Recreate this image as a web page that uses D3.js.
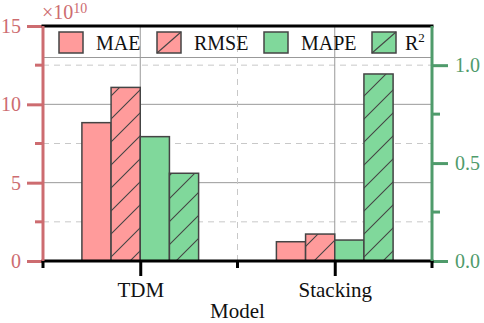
<!DOCTYPE html>
<html>
<head>
<meta charset="utf-8">
<script src="https://cdn.jsdelivr.net/npm/d3@7"></script>
<style>
  body { margin: 0; background: #fff; }
  svg { display: block; }
  svg text { font-family: "Liberation Serif", "Times New Roman", serif; }
</style>
</head>
<body>
<svg id="chart" width="484" height="323"></svg>
<script>
// data
const categories = ["TDM", "Stacking"];
const mae = [8.83, 1.23];       // x1e10, left axis
const rmse = [11.08, 1.72];     // x1e10, left axis
const mape = [0.635, 0.107];    // right axis
const r2 = [0.448, 0.955];      // right axis
const leftTicks = [0, 5, 10, 15];
const rightTicks = [0.0, 0.5, 1.0];

const PINK = "#ff9b9b", GREEN = "#80d89b";
const PINK_AXIS = "#cd6c70", GREEN_AXIS = "#4f9b6b";
const SERIF = "'Liberation Serif', 'Times New Roman', serif";

const svg = d3.select("#chart");
const m = { left: 43, right: 52, top: 26, bottom: 62 };
const W = 484, H = 323;

const x = d3.scaleLinear().domain([-0.5, 1.5]).range([m.left, W - m.right]);
const yL = d3.scaleLinear().domain([0, 15]).range([H - m.bottom, m.top]);
const yR = d3.scaleLinear().domain([0, 1.2]).range([H - m.bottom, m.top]);

const series = [
  { name: "MAE", vals: mae, y: yL, fill: PINK, hatch: false, lx: 59 },
  { name: "RMSE", vals: rmse, y: yL, fill: PINK, hatch: true, lx: 157 },
  { name: "MAPE", vals: mape, y: yR, fill: GREEN, hatch: false, lx: 264 },
  { name: "R2", vals: r2, y: yR, fill: GREEN, hatch: true, lx: 372 }
];

// hatch pattern
const defs = svg.append("defs");
const pat = defs.append("pattern")
  .attr("id", "hatch")
  .attr("patternUnits", "userSpaceOnUse")
  .attr("width", 23).attr("height", 23);
pat.append("path")
  .attr("d", "M0,23 L23,0 M-5,5 L5,-5 M18,28 L28,18")
  .attr("stroke", "#444").attr("stroke-width", 1.1);

// grid
const grid = svg.append("g");
[2.5, 7.5, 12.5].forEach(v => {
  grid.append("line")
    .attr("x1", x(-0.5)).attr("x2", x(1.5))
    .attr("y1", yL(v)).attr("y2", yL(v))
    .attr("stroke", "#c8c8c8").attr("stroke-dasharray", "6,5");
});
[5, 10].forEach(v => {
  grid.append("line")
    .attr("x1", x(-0.5)).attr("x2", x(1.5))
    .attr("y1", yL(v)).attr("y2", yL(v))
    .attr("stroke", "#999");
});
grid.append("line")
  .attr("x1", x(0.5)).attr("x2", x(0.5))
  .attr("y1", yL(0)).attr("y2", yL(15))
  .attr("stroke", "#c8c8c8").attr("stroke-dasharray", "6,5");
categories.forEach((c, i) => {
  grid.append("line")
    .attr("x1", x(i)).attr("x2", x(i))
    .attr("y1", yL(0)).attr("y2", yL(15))
    .attr("stroke", "#999");
});

// bars
const bw = 0.15;
series.forEach((s, si) => {
  const g = svg.append("g");
  const bar = sel => sel
    .attr("x", (d, i) => x(i + (si - 2) * bw))
    .attr("width", x(bw) - x(0))
    .attr("y", d => s.y(d))
    .attr("height", d => s.y(0) - s.y(d));
  g.selectAll("rect.fill").data(s.vals).join("rect").call(bar).attr("fill", s.fill);
  if (s.hatch) {
    g.selectAll("rect.hatch").data(s.vals).join("rect").call(bar).attr("fill", "url(#hatch)");
  }
  g.selectAll("rect.edge").data(s.vals).join("rect").call(bar)
    .attr("fill", "none").attr("stroke", "#444").attr("stroke-width", 1.5);
});

// legend
const lg = svg.append("g");
lg.append("line")
  .attr("x1", x(-0.5)).attr("x2", x(1.5))
  .attr("y1", 57.5).attr("y2", 57.5)
  .attr("stroke", "#999");
series.forEach(s => {
  const lx = s.lx;
  lg.append("rect")
    .attr("x", lx).attr("y", 32).attr("width", 24).attr("height", 21)
    .attr("fill", s.fill);
  if (s.hatch) {
    lg.append("line")
      .attr("x1", lx).attr("y1", 53).attr("x2", lx + 24).attr("y2", 32)
      .attr("stroke", "#444").attr("stroke-width", 1.1);
  }
  lg.append("rect")
    .attr("x", lx).attr("y", 32).attr("width", 24).attr("height", 21)
    .attr("fill", "none").attr("stroke", "#444").attr("stroke-width", 1.5);
  const t = lg.append("text")
    .attr("x", s.name === "R2" ? lx + 33 : lx + 37).attr("y", 50)
    .style("font-size", "20px").attr("fill", "#111");
  if (s.name === "R2") {
    t.append("tspan").text("R");
    t.append("tspan").style("font-size", "13px").attr("dy", -8).text("2");
  } else {
    t.text(s.name);
  }
});

// left axis
const axL = svg.append("g").attr("transform", `translate(${m.left},0)`)
  .call(d3.axisLeft(yL).tickValues(leftTicks).tickSize(16).tickPadding(6).tickFormat(d3.format("d")));
axL.attr("font-family", null);
axL.selectAll(".tick line").attr("stroke", PINK_AXIS).attr("stroke-width", 3);
axL.selectAll(".tick text").attr("fill", PINK_AXIS).style("font-size", "20px").style("font-family", SERIF);
axL.select(".domain").remove();
axL.selectAll(".minor").data([2.5, 7.5, 12.5]).join("line")
  .attr("x1", -8).attr("x2", 0).attr("y1", d => yL(d)).attr("y2", d => yL(d))
  .attr("stroke", PINK_AXIS).attr("stroke-width", 3);

// right axis
const axR = svg.append("g").attr("transform", `translate(${W - m.right},0)`)
  .call(d3.axisRight(yR).tickValues(rightTicks).tickSize(16).tickPadding(7).tickFormat(d3.format(".1f")));
axR.attr("font-family", null);
axR.selectAll(".tick line").attr("stroke", GREEN_AXIS).attr("stroke-width", 3);
axR.selectAll(".tick text").attr("fill", GREEN_AXIS).style("font-size", "20px").style("font-family", SERIF);
axR.select(".domain").remove();
axR.selectAll(".minor").data([0.25, 0.75]).join("line")
  .attr("x1", 0).attr("x2", 8).attr("y1", d => yR(d)).attr("y2", d => yR(d))
  .attr("stroke", GREEN_AXIS).attr("stroke-width", 3);

// bottom axis
const axB = svg.append("g").attr("transform", `translate(0,${H - m.bottom})`)
  .call(d3.axisBottom(x).tickValues([0, 1]).tickSize(15).tickPadding(6).tickFormat(i => categories[i]));
axB.attr("font-family", null);
axB.selectAll(".tick line").attr("stroke", "#000").attr("stroke-width", 3);
axB.selectAll(".tick text").attr("fill", "#111").style("font-size", "21px").style("font-family", SERIF);
axB.select(".domain").remove();
axB.selectAll(".minor").data([-0.5, 0.5, 1.5]).join("line")
  .attr("x1", d => x(d)).attr("x2", d => x(d)).attr("y1", 0).attr("y2", 7)
  .attr("stroke", "#000").attr("stroke-width", 3);

// frame lines
svg.append("line").attr("x1", x(-0.5) - 1.5).attr("x2", x(1.5) + 1.5)
  .attr("y1", yL(0)).attr("y2", yL(0)).attr("stroke", "#000").attr("stroke-width", 3);
svg.append("line").attr("x1", x(-0.5) - 1.5).attr("x2", x(1.5) + 1.5)
  .attr("y1", yL(15)).attr("y2", yL(15)).attr("stroke", "#000").attr("stroke-width", 3);
svg.append("line").attr("x1", x(-0.5)).attr("x2", x(-0.5))
  .attr("y1", yL(0)).attr("y2", yL(15)).attr("stroke", PINK_AXIS).attr("stroke-width", 3);
svg.append("line").attr("x1", x(1.5)).attr("x2", x(1.5))
  .attr("y1", yL(0)).attr("y2", yL(15)).attr("stroke", GREEN_AXIS).attr("stroke-width", 3);

// axis title and multiplier
svg.append("text").attr("x", x(0.5)).attr("y", 318).attr("text-anchor", "middle")
  .style("font-size", "21px").attr("fill", "#111").text("Model");
const mult = svg.append("text").attr("x", 42).attr("y", 19)
  .style("font-size", "20px").attr("fill", PINK_AXIS);
mult.append("tspan").text("×10");
mult.append("tspan").style("font-size", "14px").attr("dy", -6).text("10");
</script>
</body>
</html>
